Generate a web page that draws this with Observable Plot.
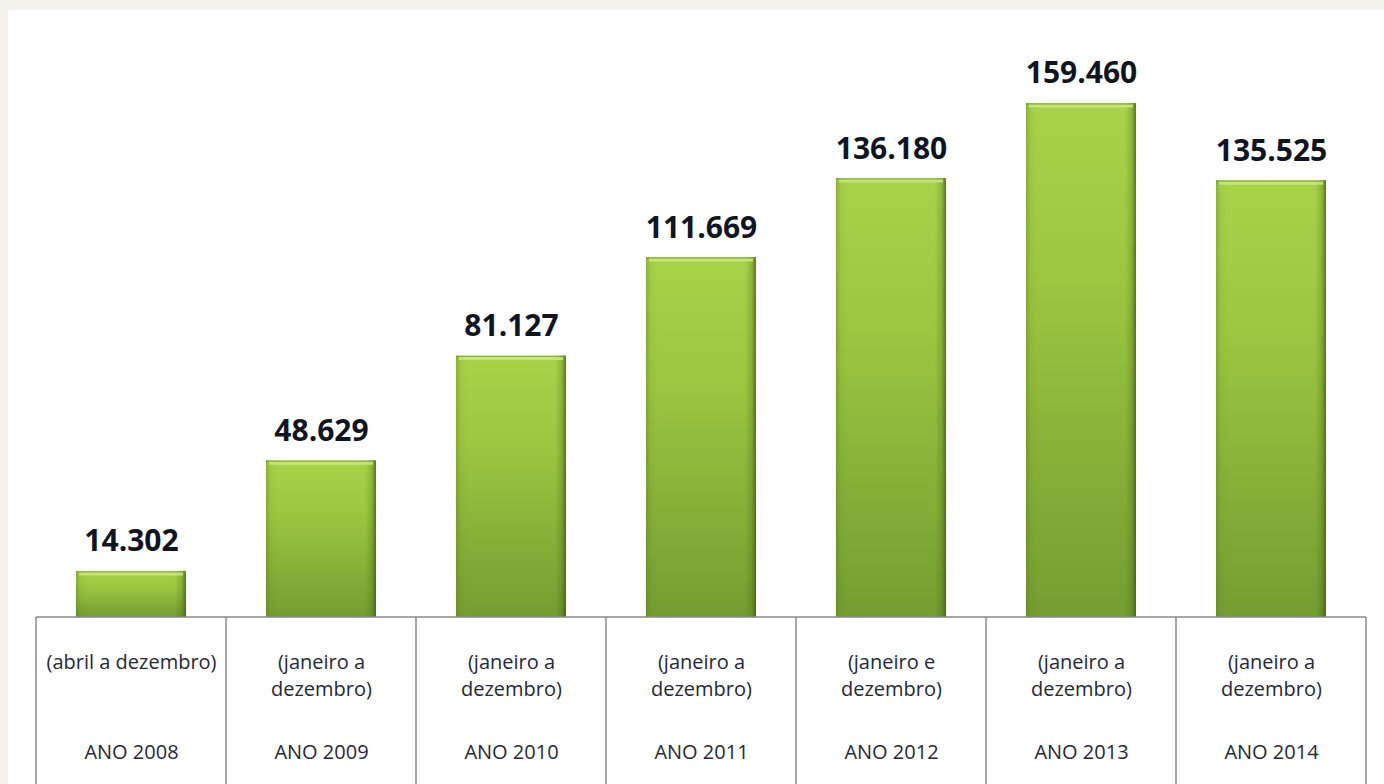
<!DOCTYPE html>
<html>
<head>
<meta charset="utf-8">
<script src="https://cdn.jsdelivr.net/npm/d3@7"></script>
<script src="https://cdn.jsdelivr.net/npm/@observablehq/plot@0.6"></script>
<style>
  html, body { margin: 0; padding: 0; background: #f5f1ec; }
  #chart { position: absolute; left: 8px; top: 10px; width: 1376px; height: 774px; background: #fff; }
  #chart svg { display: block; }
</style>
</head>
<body>
<div id="chart"></div>
<script>
// ---- data ----
const anos = ["ANO 2008", "ANO 2009", "ANO 2010", "ANO 2011", "ANO 2012", "ANO 2013", "ANO 2014"];
const periodos = [
  "(abril a dezembro)",
  "(janeiro a\ndezembro)",
  "(janeiro a\ndezembro)",
  "(janeiro a\ndezembro)",
  "(janeiro e\ndezembro)",
  "(janeiro a\ndezembro)",
  "(janeiro a\ndezembro)"
];
const valores = [14302, 48629, 81127, 111669, 136180, 159460, 135525];
const rotulos = ["14.302", "48.629", "81.127", "111.669", "136.180", "159.460", "135.525"];

const data = anos.map((a, i) => ({ano: a, periodo: periodos[i], valor: valores[i], rotulo: rotulos[i]}));

const defs = () => {
  const ns = "http://www.w3.org/2000/svg";
  const g = document.createElementNS(ns, "defs");
  g.innerHTML = `
    <linearGradient id="gv" x1="0" y1="0" x2="0" y2="1">
      <stop offset="0%" stop-color="#a9d24b"/>
      <stop offset="35%" stop-color="#9cc640"/>
      <stop offset="100%" stop-color="#739d31"/>
    </linearGradient>
    <linearGradient id="gh" x1="0" y1="0" x2="1" y2="0">
      <stop offset="0%" stop-color="#4f7418" stop-opacity="0.35"/>
      <stop offset="4%" stop-color="#4f7418" stop-opacity="0.08"/>
      <stop offset="10%" stop-color="#4f7418" stop-opacity="0"/>
      <stop offset="90%" stop-color="#3f6010" stop-opacity="0"/>
      <stop offset="96%" stop-color="#3f6010" stop-opacity="0.25"/>
      <stop offset="100%" stop-color="#33500c" stop-opacity="0.7"/>
    </linearGradient>`;
  return g;
};

const grid = (index, scales, values, dims) => {
  const ns = "http://www.w3.org/2000/svg";
  const g = document.createElementNS(ns, "g");
  const x = scales.x;
  const xs = anos.map(a => x(a));
  const step = xs[1] - xs[0];
  const bw = typeof x.bandwidth === "function" ? x.bandwidth() : step * 0.58;
  const gap = (step - bw) / 2;
  const edges = xs.map(v => v - gap);
  edges.push(xs[xs.length - 1] + bw + gap);
  const top = dims.height - dims.marginBottom;
  const bottom = dims.height;
  const mk = (x1, y1, x2, y2) => {
    const l = document.createElementNS(ns, "line");
    l.setAttribute("x1", x1); l.setAttribute("y1", y1);
    l.setAttribute("x2", x2); l.setAttribute("y2", y2);
    l.setAttribute("stroke", "#8a8a8a");
    l.setAttribute("stroke-width", "1.5");
    g.appendChild(l);
  };
  mk(edges[0], top, edges[edges.length - 1], top);
  edges.forEach(e => mk(e, top, e, bottom));
  return g;
};

const chart = Plot.plot({
  width: 1376,
  height: 774,
  marginTop: 30,
  marginBottom: 167,
  marginLeft: 28,
  marginRight: 18,
  style: {background: "#fff", fontFamily: "'Open Sans', sans-serif"},
  x: {type: "band", domain: anos, paddingInner: 0.42, paddingOuter: 0.21, axis: null},
  y: {domain: [0, 179000], axis: null},
  marks: [
    defs,
    Plot.barY(data, {x: "ano", y: "valor", fill: "url(#gv)"}),
    Plot.barY(data, {x: "ano", y: "valor", fill: "url(#gh)"}),
    Plot.tickY(data, {x: "ano", y: "valor", stroke: "#cbe687", strokeWidth: 3, dy: 2.5, insetLeft: 3, insetRight: 3, strokeOpacity: 0.85}),
    Plot.tickY(data, {x: "ano", y: "valor", stroke: "#6f9a2c", strokeWidth: 1, dy: 0.5, strokeOpacity: 0.6}),
    grid,
    Plot.text(data, {x: "ano", y: "valor", text: "rotulo", lineAnchor: "bottom", dy: -20,
      fontSize: 30, fontWeight: 700, fill: "#111522"}),
    Plot.text(data, {x: "ano", text: "periodo", frameAnchor: "bottom", lineAnchor: "top", dy: 32,
      fontSize: 20, lineHeight: 1.37, fill: "#26283a"}),
    Plot.text(data, {x: "ano", text: "ano", frameAnchor: "bottom", lineAnchor: "bottom", dy: 141,
      fontSize: 20, fill: "#26283a"})
  ]
});
chart.style.overflow = "visible";
document.getElementById("chart").appendChild(chart);
</script>
</body>
</html>
